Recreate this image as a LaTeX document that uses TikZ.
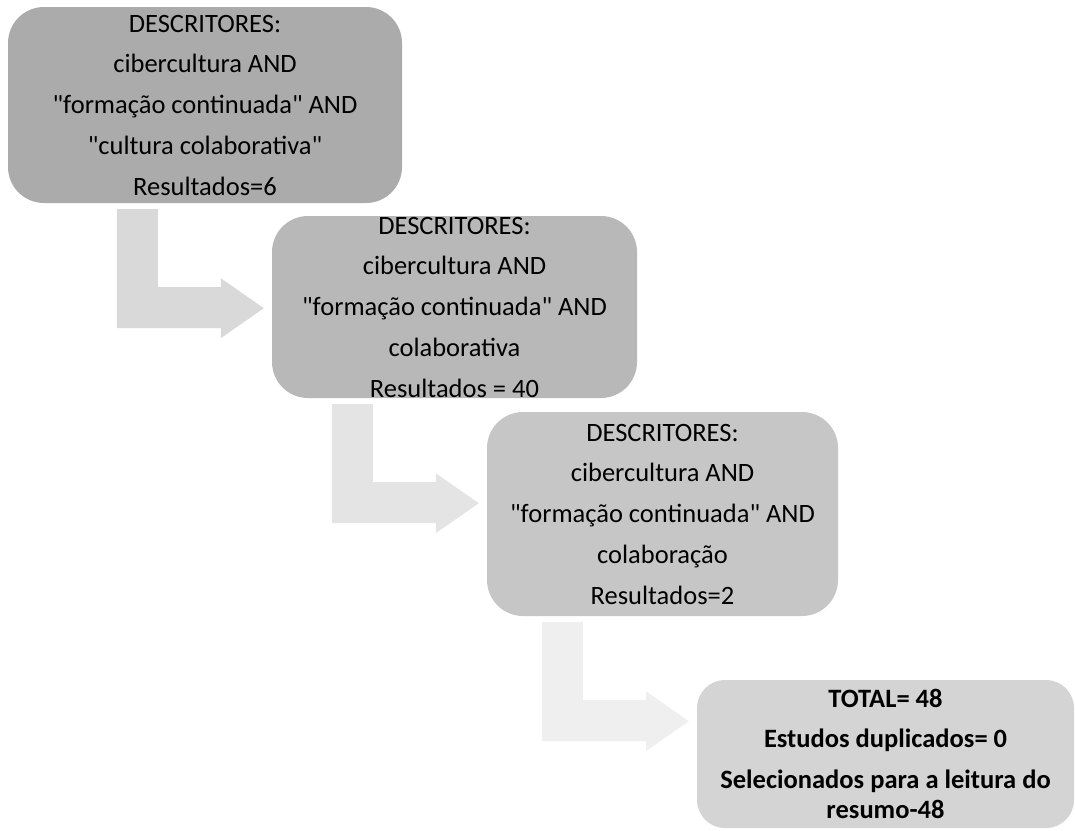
\documentclass[tikz,border=0pt]{standalone}
\usepackage{fontspec}
\setmainfont{Carlito}[Ligatures=TeXOff]
\usetikzlibrary{calc}
\definecolor{boxA}{RGB}{171,171,171}
\definecolor{boxB}{RGB}{184,184,184}
\definecolor{boxC}{RGB}{198,198,198}
\definecolor{boxD}{RGB}{212,212,212}
\definecolor{arrA}{RGB}{217,217,217}
\definecolor{arrB}{RGB}{228,228,228}
\definecolor{arrC}{RGB}{239,239,239}
\tikzset{
  stagebox/.style={rectangle, rounded corners=36pt, inner sep=0pt, align=center,
    font=\fontsize{26.5}{40.75}\selectfont, text=black}
}
\newcommand{\bentarrowshape}[3]{%
  \path let \p1=(#1.south), \p2=(#2.west) in coordinate (#2-ao) at (\x2-155pt,\y1-6pt);
  \fill[#3] (#2-ao) -- ++(41,0) -- ++(0,78) -- ++(63,0) -- ++(0,-9) -- ++(43,30)
     -- ++(-43,30) -- ++(0,-10) -- ++(-104,0) -- cycle;
}
\begin{document}
\begin{tikzpicture}[x=1pt,y=-1pt]
\useasboundingbox (0,0) rectangle (1075,830);
\node[stagebox, fill=boxA, minimum width=394pt, minimum height=196pt] (b1) at (205,105)
  {DESCRITORES:\\cibercultura AND\\"formação continuada" AND\\"cultura colaborativa"\\Resultados=6};
\node[stagebox, fill=boxB, minimum width=365pt, minimum height=182pt] (b2) at (454.5,307)
  {DESCRITORES:\\cibercultura AND\\"formação continuada" AND\\colaborativa\\Resultados = 40};
\node[stagebox, fill=boxC, minimum width=351pt, minimum height=204pt] (b3) at (662.5,514)
  {DESCRITORES:\\cibercultura AND\\"formação continuada" AND\\colaboração\\Resultados=2};
\node[stagebox, rounded corners=28pt, fill=boxD, minimum width=377pt, minimum height=148pt, font=\fontsize{26.5}{40.75}\selectfont\bfseries] (b4) at (885.5,754)
  {TOTAL= 48\\Estudos duplicados= 0\\Selecionados para a leitura do\\[-10.5pt]resumo-48};
\bentarrowshape{b1}{b2}{arrA}
\bentarrowshape{b2}{b3}{arrB}
\bentarrowshape{b3}{b4}{arrC}
\end{tikzpicture}
\end{document}
